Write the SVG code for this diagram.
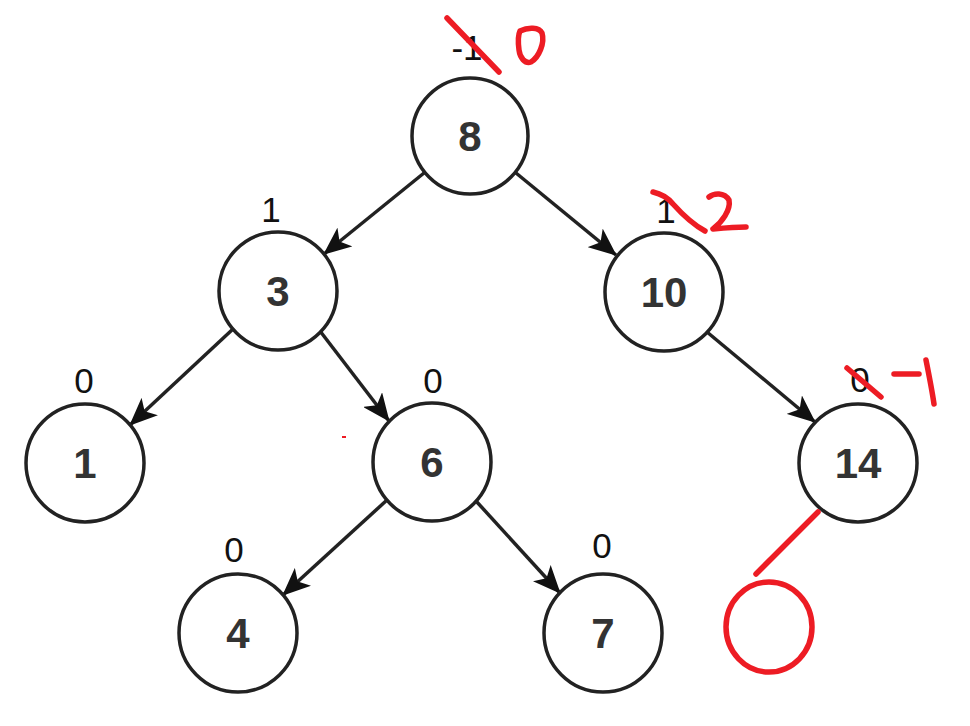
<svg xmlns="http://www.w3.org/2000/svg" width="970" height="726" viewBox="0 0 970 726">
<style>
.node circle{fill:#fff;stroke:#222;stroke-width:3.5}
.node text{font-family:"Liberation Sans",Arial,sans-serif;font-size:42px;font-weight:bold;fill:#333;text-anchor:middle}
.bal{font-family:"Liberation Sans",Arial,sans-serif;font-size:35px;fill:#111;text-anchor:middle}
.edge{stroke:#222;stroke-width:3.5;fill:none;marker-end:url(#arr)}
.red{stroke:#ED1C24;stroke-width:5.5;fill:none;stroke-linecap:round;stroke-linejoin:round}
</style>
<defs>
<marker id="arr" viewBox="0 0 28 24" refX="27" refY="12" markerWidth="28" markerHeight="24" markerUnits="userSpaceOnUse" orient="auto">
<path d="M0,0 L28,12 L0,24 L7,12 Z" fill="#111"/>
</marker>
</defs>
<rect width="970" height="726" fill="#fff"/>
<g id="connectors">
<line class="edge" x1="424" y1="173" x2="324" y2="254"/>
<line class="edge" x1="516" y1="173" x2="616" y2="255"/>
<line class="edge" x1="233" y1="329" x2="130" y2="425"/>
<line class="edge" x1="320" y1="331" x2="389" y2="421"/>
<line class="edge" x1="707" y1="332" x2="815" y2="422"/>
<line class="edge" x1="387" y1="500" x2="283" y2="595"/>
<line class="edge" x1="476" y1="501" x2="560" y2="593"/>
</g>
<g id="n8" class="node"><circle cx="470" cy="136" r="58"/><text x="470" y="151">8</text></g>
<g id="n3" class="node"><circle cx="278" cy="291" r="59"/><text x="278" y="306">3</text></g>
<g id="n10" class="node"><circle cx="664" cy="292" r="59"/><text x="664" y="307">10</text></g>
<g id="n1" class="node"><circle cx="85" cy="463" r="59"/><text x="85" y="478">1</text></g>
<g id="n6" class="node"><circle cx="432" cy="462" r="59"/><text x="432" y="477">6</text></g>
<g id="n14" class="node"><circle cx="858" cy="463" r="59"/><text x="858" y="478">14</text></g>
<g id="n4" class="node"><circle cx="238" cy="633" r="59"/><text x="238" y="648">4</text></g>
<g id="n7" class="node"><circle cx="603" cy="633" r="59"/><text x="603" y="648">7</text></g>
<g id="balances">
<text class="bal" x="467" y="60">-1</text>
<text class="bal" x="271" y="222">1</text>
<text class="bal" x="666" y="223">1</text>
<text class="bal" x="84" y="393">0</text>
<text class="bal" x="433" y="393">0</text>
<text class="bal" x="860" y="392">0</text>
<text class="bal" x="234" y="562">0</text>
<text class="bal" x="602" y="558">0</text>
</g>
<g id="annotations">
<line class="red" x1="447" y1="18" x2="499" y2="72"/>
<path class="red" d="M520,31 C528,27 539,27 542,33 C545,43 539,57 531,62 C525,64 520,58 519,50 C518,42 518,35 520,31 Z"/>
<path class="red" d="M653,192 C662,194 668,198 673,204 C682,214 692,224 705,231"/>
<path class="red" d="M709,197 C714,193 724,192 729,200 C731,210 722,222 713,229 C724,228 736,227 746,227"/>
<line class="red" x1="847" y1="368" x2="881" y2="397"/>
<line class="red" x1="894" y1="374" x2="919" y2="374"/>
<path class="red" d="M926,360 C929,375 932,390 934,404"/>
<line class="red" x1="818" y1="512" x2="756" y2="574"/>
<ellipse class="red" cx="769" cy="627" rx="43" ry="45"/>
<rect x="342" y="436" width="4" height="2" fill="#ED1C24"/>
</g>
</svg>
